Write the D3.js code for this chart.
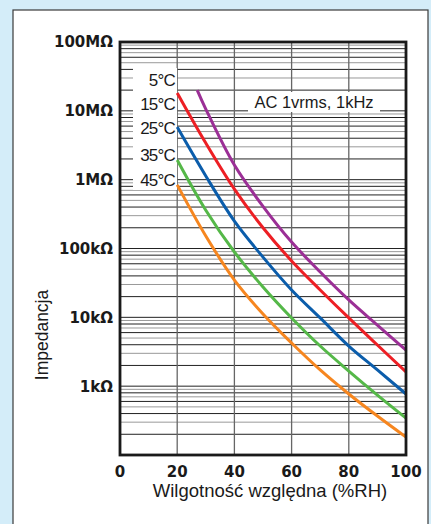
<!DOCTYPE html>
<html>
<head>
<meta charset="utf-8">
<script src="https://cdn.jsdelivr.net/npm/d3@7"></script>
<style>
  body { margin: 0; background: #d4edf9; }
  svg { display: block; }
  .ytick { font-family: "DejaVu Sans", sans-serif; font-weight: bold; font-size: 15px; fill: #1a1a1a; }
  .xtick { font-family: "DejaVu Sans", sans-serif; font-weight: bold; font-size: 15px; fill: #1a1a1a; }
  .lbl { font-family: "Liberation Sans", Arial, sans-serif; font-size: 16px; fill: #1a1a1a; }
</style>
</head>
<body>
<div id="chart"></div>
<script>
// relative humidity (%RH) where curves were read
var rh = [20, 30, 40, 50, 60, 70, 80, 90, 100];
var rh5 = [27, 30, 40, 50, 60, 70, 80, 90, 100];

// impedance in ohms, per temperature
var z5  = [2.0e7, 1.06e7, 1.63e6, 4.1e5, 1.24e5, 4.55e4, 1.79e4, 7.7e3, 3.35e3];
var z15 = [1.82e7, 3.4e6, 7.3e5, 2.0e5, 6.6e4, 2.5e4, 9.8e3, 3.96e3, 1.61e3];
var z25 = [5.8e6, 1.13e6, 2.5e5, 7.5e4, 2.5e4, 9.8e3, 3.83e3, 1.72e3, 770];
var z35 = [1.93e6, 3.6e5, 8.9e4, 2.76e4, 9.8e3, 3.83e3, 1.66e3, 743, 344];
var z45 = [8.4e5, 1.52e5, 3.48e4, 1.12e4, 4.24e3, 1.72e3, 770, 368, 182];

var tempLabels = ["5°C", "15°C", "25°C", "35°C", "45°C"];
var colors = ["#9b2f96", "#ed1f24", "#0b5dab", "#55b848", "#f6861f"];

var xTicks = [0, 20, 40, 60, 80, 100];
var yTicks = [1e8, 1e7, 1e6, 1e5, 1e4, 1e3];
var yTickLabels = ["100MΩ", "10MΩ", "1MΩ", "100kΩ", "10kΩ", "1kΩ"];

var width = 431, height = 524;
var pLeft = 120, pRight = 406, pTop = 42, pBottom = 455;

var svg = d3.select("#chart").append("svg")
    .attr("width", width)
    .attr("height", height);

// white panel
svg.append("rect")
    .attr("x", 13).attr("y", 10)
    .attr("width", 415).attr("height", 530)
    .attr("fill", "#fff")
    .attr("stroke", "#3a3a3a")
    .attr("stroke-width", 1.2);

var x = d3.scaleLinear().domain([0, 100]).range([pLeft, pRight]);
var y = d3.scaleLog().domain([100, 1e8]).range([pBottom, pTop]);

var grid = svg.append("g");

// horizontal log grid
var hlines = [];
for (var e = 2; e < 8; e++) {
  for (var m = 1; m <= 9; m++) {
    hlines.push({ v: m * Math.pow(10, e), m: m });
  }
}
grid.selectAll(".h")
  .data(hlines.filter(function (d) { return d.v > 100; }))
  .enter().append("line")
    .attr("x1", pLeft).attr("x2", pRight)
    .attr("y1", function (d) { return y(d.v); })
    .attr("y2", function (d) { return y(d.v); })
    .attr("stroke", function (d) { return (d.m == 1 || d.m % 2 == 0) ? "#222" : "#999"; })
    .attr("stroke-width", 1);

// vertical grid
grid.selectAll(".v")
  .data([20, 40, 60, 80])
  .enter().append("line")
    .attr("x1", function (d) { return x(d); })
    .attr("x2", function (d) { return x(d); })
    .attr("y1", pTop).attr("y2", pBottom)
    .attr("stroke", "#666")
    .attr("stroke-width", 1.3);

// white boxes behind in-plot labels
svg.append("rect").attr("x", 133).attr("y", 68).attr("width", 44).attr("height", 122).attr("fill", "#fff");
svg.append("rect").attr("x", 248).attr("y", 92).attr("width", 132).attr("height", 20).attr("fill", "#fff");

// curves
var series = [
  { rh: rh5, z: z5 },
  { rh: rh, z: z15 },
  { rh: rh, z: z25 },
  { rh: rh, z: z35 },
  { rh: rh, z: z45 }
];
var line = d3.line()
    .x(function (d) { return x(d[0]); })
    .y(function (d) { return y(d[1]); })
    .curve(d3.curveCatmullRom.alpha(0.5));

svg.append("g").selectAll("path")
  .data(series)
  .enter().append("path")
    .attr("d", function (s) { return line(s.rh.map(function (r, i) { return [r, s.z[i]]; })); })
    .attr("fill", "none")
    .attr("stroke", function (s, i) { return colors[i]; })
    .attr("stroke-width", 3);

// frame
svg.append("rect")
    .attr("x", pLeft).attr("y", pTop)
    .attr("width", pRight - pLeft).attr("height", pBottom - pTop)
    .attr("fill", "none")
    .attr("stroke", "#1a1a1a")
    .attr("stroke-width", 2.8);

// y tick labels
svg.selectAll(".ytick")
  .data(yTicks)
  .enter().append("text")
    .attr("class", "ytick")
    .attr("x", 113)
    .attr("y", function (d) { return y(d); })
    .attr("dy", "0.36em")
    .attr("text-anchor", "end")
    .text(function (d, i) { return yTickLabels[i]; });

// x tick labels
svg.selectAll(".xtick")
  .data(xTicks)
  .enter().append("text")
    .attr("class", "xtick")
    .attr("x", function (d) { return x(d); })
    .attr("y", 477)
    .attr("text-anchor", "middle")
    .text(function (d) { return d; });

// temperature labels
var tempY = [80, 104, 128, 155, 180];
svg.selectAll(".temp")
  .data(tempLabels)
  .enter().append("text")
    .attr("class", "lbl")
    .attr("x", 175)
    .attr("y", function (d, i) { return tempY[i]; })
    .attr("dy", "0.36em")
    .attr("text-anchor", "end")
    .style("font-size", "17px")
    .style("letter-spacing", "-0.8px")
    .text(function (d) { return d; });

svg.append("text")
    .attr("class", "lbl")
    .attr("x", 314).attr("y", 102)
    .attr("dy", "0.36em")
    .attr("text-anchor", "middle")
    .style("font-size", "16.5px")
    .text("AC 1vrms, 1kHz");

// axis titles
svg.append("text")
    .attr("class", "lbl")
    .attr("x", 270).attr("y", 497)
    .attr("text-anchor", "middle")
    .style("font-size", "18.5px")
    .text("Wilgotność względna (%RH)");

svg.append("text")
    .attr("class", "lbl")
    .attr("transform", "translate(48,335) rotate(-90)")
    .attr("text-anchor", "middle")
    .style("font-size", "17.5px")
    .text("Impedancja");
</script>
</body>
</html>
